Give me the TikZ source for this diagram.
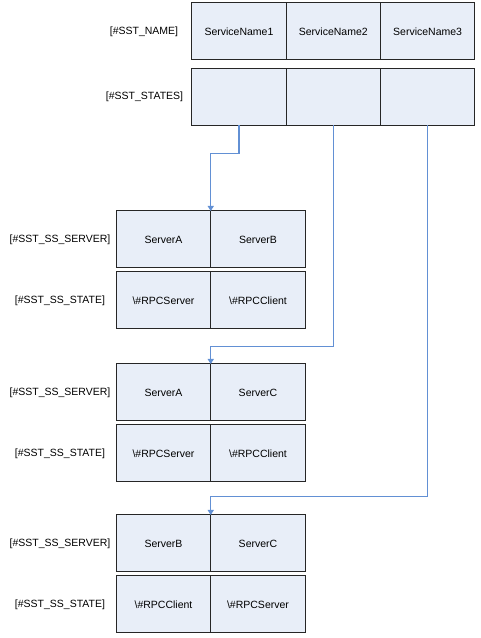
\documentclass[tikz,border=0pt]{standalone}
\usepackage{fontspec}
\setmainfont{Liberation Sans}
\usetikzlibrary{arrows.meta, positioning}
\definecolor{cfill}{HTML}{E8EEF8}
\definecolor{cedge}{HTML}{262626}
\definecolor{clink}{HTML}{6290D4}
\tikzset{
  every picture/.style={font=\fontsize{10.5}{12}\selectfont, line width=1pt},
  cell/.style={draw=cedge, fill=cfill, minimum height=57pt, outer sep=0pt, inner sep=0pt},
  topcell/.style={cell, minimum width=94.3pt},
  srvcell/.style={cell, minimum width=94.5pt},
  rowlabel/.style={inner sep=0pt},
  link/.style={-{Triangle[length=5pt, width=6pt]}, draw=clink, line width=1.3pt},
}

\begin{document}
\begin{tikzpicture}[x=1pt, y=1pt, node distance=0pt]
  \useasboundingbox (0,0) rectangle (480,638);
  % service table
  \node[topcell] (nm1) at (239,606.5) {ServiceName1};
  \node[topcell, right=of nm1] (nm2) {ServiceName2};
  \node[topcell, right=of nm2] (nm3) {ServiceName3};
  \node[topcell] (st1) at (239,541) {};
  \node[topcell, right=of st1] (st2) {};
  \node[topcell, right=of st2] (st3) {};
  \node[rowlabel] (lname) at (144,606.5) {[\#SST\_NAME]};
  \node[rowlabel] (lstates) at (144.5,541) {[\#SST\_STATES]};
  % server / state tables
  \foreach \g/\y/\a/\b/\c/\d in {1/398.5/ServerA/ServerB/RPCServer/RPCClient,
                                  2/245.5/ServerA/ServerC/RPCServer/RPCClient,
                                  3/94.5/ServerB/ServerC/RPCClient/RPCServer} {
    \node[srvcell] (g\g s1) at (163.5,\y) {\a};
    \node[srvcell, right=of g\g s1] (g\g s2) {\b};
    \node[srvcell, below=4pt of g\g s1] (g\g t1) {\textbackslash\#\c};
    \node[srvcell, right=of g\g t1] (g\g t2) {\textbackslash\#\d};
    \node[rowlabel] (g\g ls) at (60,\y) {[\#SST\_SS\_SERVER]};
    \node[rowlabel] (g\g lt) at (60,\y-61.5) {[\#SST\_SS\_STATE]};
  }
  % links
  \draw[link] (st1.south) -- ++(0,-28) -| (g1s1.north east);
  \draw[link] (st2.south) -- ++(0,-221) -| (g2s1.north east);
  \draw[link] (st3.south) -- ++(0,-371) -| (g3s1.north east);
\end{tikzpicture}
\end{document}
